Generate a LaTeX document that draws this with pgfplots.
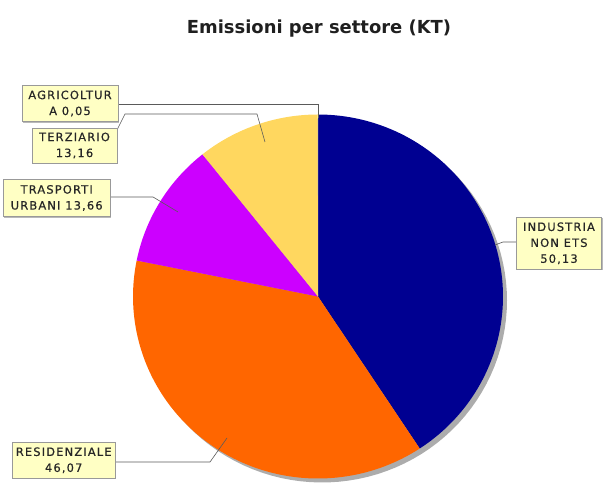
\documentclass[border=0pt]{standalone}
\usepackage{pgfplots}
\pgfplotsset{compat=1.18}
\usepackage{pgfplotstable}
\usepackage{fontspec}
\setmainfont{DejaVu Sans}
\newfontfamily\labfont[LetterSpace=10,FakeBold=0.5]{DejaVu Sans}
\usetikzlibrary{shadows}
\definecolor{cInd}{RGB}{0,0,145}
\definecolor{cRes}{RGB}{255,102,0}
\definecolor{cTra}{RGB}{204,0,255}
\definecolor{cTer}{RGB}{255,215,95}
\definecolor{cAgr}{RGB}{255,230,120}
\definecolor{labbg}{RGB}{255,255,196}
\definecolor{linkc}{RGB}{90,90,90}
\tikzset{lab/.style={draw=gray!80, fill=labbg, line width=0.5pt, align=center,
    font=\labfont\fontsize{11.5}{16}\selectfont, text=black!85, inner sep=1.5pt,
    drop shadow={shadow xshift=1.2pt, shadow yshift=-1.2pt, fill=gray!55, opacity=1}}}
\pgfplotstableread[col sep=comma]{
name,value
Industria non ETS,50.13
Residenziale,46.07
Trasporti urbani,13.66
Terziario,13.16
Agricoltura,0.05
}\piedata
\begin{document}
\begin{tikzpicture}
\pgfplotstablegetelem{0}{value}\of\piedata \let\vA\pgfplotsretval
\pgfplotstablegetelem{1}{value}\of\piedata \let\vB\pgfplotsretval
\pgfplotstablegetelem{2}{value}\of\piedata \let\vC\pgfplotsretval
\pgfplotstablegetelem{3}{value}\of\piedata \let\vD\pgfplotsretval
\pgfplotstablegetelem{4}{value}\of\piedata \let\vE\pgfplotsretval
\pgfmathsetmacro\tot{\vA+\vB+\vC+\vD+\vE}
\pgfmathsetmacro\aA{90}
\pgfmathsetmacro\aB{\aA-360*(\vA/\tot)}
\pgfmathsetmacro\aC{\aB-360*(\vB/\tot)}
\pgfmathsetmacro\aD{\aC-360*(\vC/\tot)}
\pgfmathsetmacro\aE{\aD-360*(\vD/\tot)}
\pgfmathsetmacro\aF{\aE-360*(\vE/\tot)}
\def\cx{318}\def\cy{188.5}\def\rx{185}\def\ry{182}
\begin{axis}[
  width=603bp, height=485bp, scale only axis,
  xmin=0, xmax=603, ymin=0, ymax=485,
  hide axis, clip=false,
]
\path (axis cs:0,0) rectangle (axis cs:603,485);
% shadow
\addplot[fill=gray!65, draw=none, domain=0:360, samples=120, variable=\t]
  ({\cx+4+\rx*cos(t)},{\cy-4+\ry*sin(t)}) -- cycle;
% slices
\addplot[fill=cInd, draw=none, domain=\aB:\aA, samples=90, variable=\t]
  ({\cx+\rx*cos(t)},{\cy+\ry*sin(t)}) -- (axis cs:\cx,\cy) -- cycle;
\addplot[fill=cRes, draw=none, domain=\aC:\aB, samples=90, variable=\t]
  ({\cx+\rx*cos(t)},{\cy+\ry*sin(t)}) -- (axis cs:\cx,\cy) -- cycle;
\addplot[fill=cTra, draw=none, domain=\aD:\aC, samples=40, variable=\t]
  ({\cx+\rx*cos(t)},{\cy+\ry*sin(t)}) -- (axis cs:\cx,\cy) -- cycle;
\addplot[fill=cTer, draw=none, domain=\aE:\aD, samples=40, variable=\t]
  ({\cx+\rx*cos(t)},{\cy+\ry*sin(t)}) -- (axis cs:\cx,\cy) -- cycle;
\addplot[fill=cAgr, draw=none, domain=\aF:\aE, samples=3, variable=\t]
  ({\cx+\rx*cos(t)},{\cy+\ry*sin(t)}) -- (axis cs:\cx,\cy) -- cycle;
% title
\node[anchor=base, font=\bfseries\fontsize{18}{22}\selectfont, text=black!88] at (axis cs:319,451) {Emissioni per settore (KT)};
% link lines
\draw[linkc, line width=0.6pt] (axis cs:118,381) -- (axis cs:318,381) -- (axis cs:318,367);
\draw[linkc, line width=0.6pt] (axis cs:117,355) -- (axis cs:125,371) -- (axis cs:257,371) -- (axis cs:265,343);
\draw[linkc, line width=0.6pt] (axis cs:110,288) -- (axis cs:153,288) -- (axis cs:178,273);
\draw[linkc, line width=0.6pt] (axis cs:517,243) -- (axis cs:503,243) -- (axis cs:495,240);
\draw[linkc, line width=0.6pt] (axis cs:115,23) -- (axis cs:210,23) -- (axis cs:227,47);
% labels
\node[lab, minimum width=96bp, minimum height=36bp] at (axis cs:70,381.5) {AGRICOLTUR\\A 0,05};
\node[lab, minimum width=85bp, minimum height=35bp] at (axis cs:74.5,339.5) {TERZIARIO\\13,16};
\node[lab, minimum width=107bp, minimum height=37bp] at (axis cs:56.7,287) {TRASPORTI\\URBANI 13,66};
\node[lab, minimum width=85bp, minimum height=52bp] at (axis cs:559,241.7) {INDUSTRIA\\NON ETS\\50,13};
\node[lab, minimum width=103bp, minimum height=36bp] at (axis cs:63.7,24.7) {RESIDENZIALE\\46,07};
\end{axis}
\end{tikzpicture}
\end{document}
